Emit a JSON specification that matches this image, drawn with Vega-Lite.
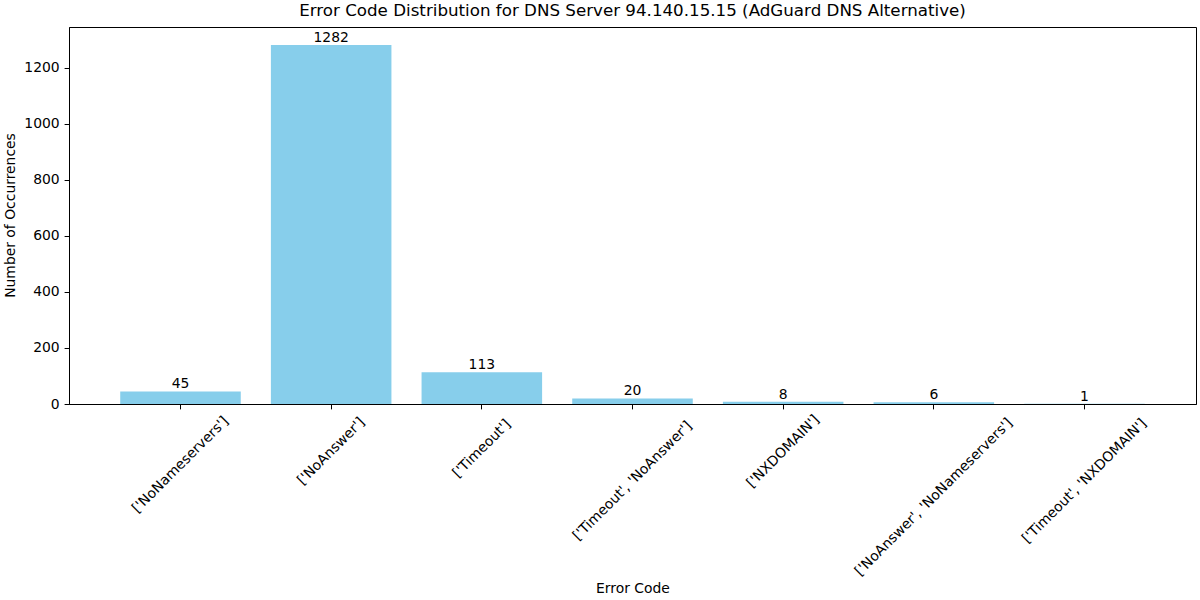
{
  "$schema": "https://vega.github.io/schema/vega-lite/v6.json",
  "width": 1127,
  "height": 377,
  "autosize": {"type": "none"},
  "padding": {"left": 69, "top": 27, "right": 4, "bottom": 196},
  "background": "white",
  "title": {
    "text": "Error Code Distribution for DNS Server 94.140.15.15 (AdGuard DNS Alternative)",
    "font": "DejaVu Sans",
    "fontSize": 16.7,
    "fontWeight": "normal",
    "color": "black",
    "anchor": "middle",
    "offset": 7
  },
  "config": {
    "view": {"stroke": "black", "strokeWidth": 1},
    "font": "DejaVu Sans",
    "axis": {
      "labelFont": "DejaVu Sans",
      "labelFontSize": 13.9,
      "labelColor": "black",
      "titleFont": "DejaVu Sans",
      "titleFontSize": 13.9,
      "titleFontWeight": "normal",
      "titleColor": "black",
      "domainColor": "black",
      "tickColor": "black",
      "tickSize": 4.9,
      "grid": false
    }
  },
  "data": {
    "values": [
      {"code": "['NoNameservers']", "count": 45},
      {"code": "['NoAnswer']", "count": 1282},
      {"code": "['Timeout']", "count": 113},
      {"code": "['Timeout', 'NoAnswer']", "count": 20},
      {"code": "['NXDOMAIN']", "count": 8},
      {"code": "['NoAnswer', 'NoNameservers']", "count": 6},
      {"code": "['Timeout', 'NXDOMAIN']", "count": 1}
    ]
  },
  "encoding": {
    "x": {
      "field": "code",
      "type": "nominal",
      "sort": null,
      "scale": {"paddingInner": 0.2, "paddingOuter": 0.34},
      "axis": {
        "title": "Error Code",
        "labelAngle": -45,
        "labelAlign": "center",
        "labelBaseline": "middle",
        "labelPadding": {"expr": "4.5 + (length(datum.label)*7.6 + 15)*0.354"},
        "labelOverlap": false,
        "labelLimit": 0,
        "titleY": 184,
        "titleBaseline": "middle"
      }
    },
    "y": {
      "field": "count",
      "type": "quantitative",
      "scale": {"domain": [0, 1346.1], "nice": false},
      "axis": {
        "title": "Number of Occurrences",
        "values": [0, 200, 400, 600, 800, 1000, 1200],
        "format": "d",
        "labelPadding": 4.9,
        "titleX": -59,
        "titleY": 188,
        "titleAngle": -90,
        "titleAlign": "center",
        "titleBaseline": "middle"
      }
    }
  },
  "layer": [
    {"mark": {"type": "bar", "color": "#87CEEB"}},
    {
      "mark": {
        "type": "text",
        "font": "DejaVu Sans",
        "fontSize": 13.9,
        "color": "black",
        "baseline": "alphabetic",
        "dy": -3
      },
      "encoding": {"text": {"field": "count", "type": "quantitative", "format": "d"}}
    }
  ]
}
